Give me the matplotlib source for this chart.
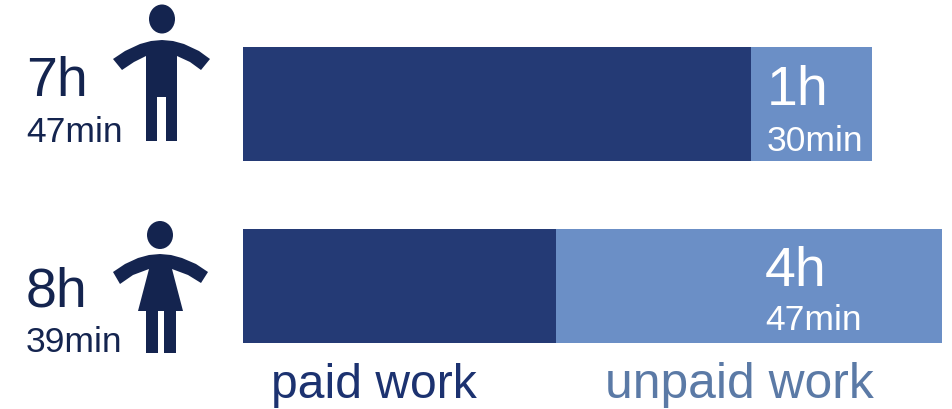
import matplotlib
matplotlib.use("Agg")
import matplotlib.pyplot as plt
from matplotlib.patches import Ellipse, Polygon

plt.rcParams['font.family'] = ['Liberation Sans', 'DejaVu Sans']

# minutes per day
groups = ["men", "women"]
total_hours = ["7h", "8h"]
total_mins = ["47min", "39min"]
unpaid_hours = ["1h", "4h"]
unpaid_mins = ["30min", "47min"]
total_work = [467, 519]
unpaid_work = [90, 287]
paid_work = [t - u for t, u in zip(total_work, unpaid_work)]

DARK = "#243a75"
LIGHT = "#6b8fc6"
NAVY = "#14244f"

W, H = 953, 410
fig = plt.figure(figsize=(W / 100, H / 100), dpi=100)

# bars, x axis scaled to minutes
ax = fig.add_axes([243 / W, 0, (W - 243) / W, 1])
ax.set_xlim(0, (W - 243) / 1.347)
ax.set_ylim((H - 105) / 182, -105 / 182)
ypos = range(len(groups))
ax.barh(ypos, paid_work, height=0.626, color=DARK)
ax.barh(ypos, unpaid_work, left=paid_work, height=0.626, color=LIGHT)
ax.axis("off")

# overlay in pixel coordinates for labels and figures
ov = fig.add_axes([0, 0, 1, 1])
ov.set_xlim(0, W)
ov.set_ylim(H, 0)
ov.axis("off")
ov.patch.set_alpha(0)

man = [(113, 60), (125, 52), (140, 45), (151, 42), (162, 41), (173, 42), (184, 45),
       (199, 52), (210, 60), (201, 71), (190, 63), (177, 57), (177, 142), (166, 142),
       (166, 98), (157, 98), (157, 142), (146, 142), (146, 57), (134, 63), (122, 71)]
ov.add_patch(Polygon(man, closed=True, color=NAVY, lw=0))
ov.add_patch(Ellipse((162, 20), 26, 29, color=NAVY, lw=0))

woman = [(113, 273), (125, 265), (138, 259), (149, 256), (160, 255), (171, 256), (182, 259),
         (196, 265), (208, 273), (201, 284), (188, 276), (172, 270), (183, 312), (176, 312),
         (176, 354), (164, 354), (164, 312), (158, 312), (158, 354), (146, 354), (146, 312),
         (138, 312), (149, 270), (133, 276), (120, 285)]
ov.add_patch(Polygon(woman, closed=True, color=NAVY, lw=0))
ov.add_patch(Ellipse((160, 236), 26, 28, color=NAVY, lw=0))

left_hour_y = [96, 307]
left_min_y = [142, 352]
for i in ypos:
    ov.text(26, left_hour_y[i], total_hours[i], fontsize=40, color=NAVY, ha="left", va="baseline")
    ov.text(26, left_min_y[i], total_mins[i], fontsize=25.5, color=NAVY, ha="left", va="baseline")

inner_x = [767, 765]
inner_hour_y = [105, 286]
inner_min_y = [151, 330]
for i in ypos:
    ov.text(inner_x[i], inner_hour_y[i], unpaid_hours[i], fontsize=40, color="white", ha="left", va="baseline")
    ov.text(inner_x[i], inner_min_y[i], unpaid_mins[i], fontsize=25.5, color="white", ha="left", va="baseline")

ov.text(271, 398, "paid work", fontsize=34.6, color="#1c3270", ha="left", va="baseline")
ov.text(605, 398, "unpaid work", fontsize=35.8, color="#5b7aa6", ha="left", va="baseline")

fig.savefig("out.png", dpi=100)
